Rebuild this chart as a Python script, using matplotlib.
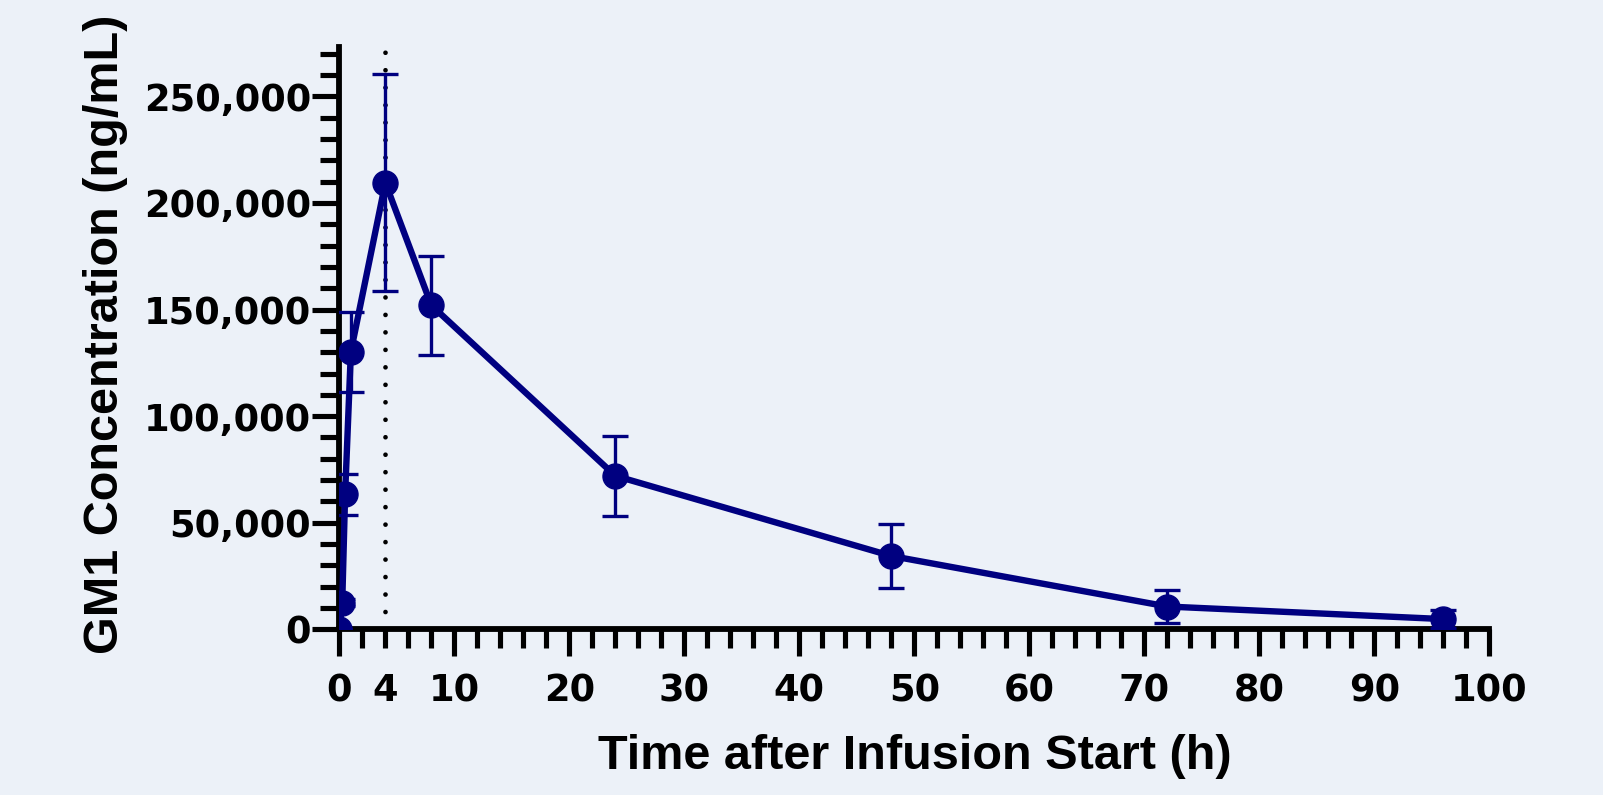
import matplotlib
matplotlib.use("Agg")
import matplotlib.pyplot as plt
from matplotlib.ticker import MultipleLocator, FuncFormatter

# Data
time_h = [0, 0.25, 0.5, 1, 4, 8, 24, 48, 72, 96]
conc_mean = [0, 12500, 63300, 130200, 209500, 152000, 72000, 34400, 10700, 4800]
conc_sd = [0, 1500, 9600, 18800, 51000, 23300, 18700, 14800, 7800, 4200]
xtick_vals = [0, 4, 10, 20, 30, 40, 50, 60, 70, 80, 90, 100]
ytick_vals = [0, 50000, 100000, 150000, 200000, 250000]
infusion_end = 4

BG = "#ECF1F8"
NAVY = "#000080"

fig = plt.figure(figsize=(16.03, 7.95), dpi=100, facecolor=BG)
ax = fig.add_axes([0.2117, 0.2084, 0.7174, 0.732])
ax.set_facecolor(BG)

ax.axvline(infusion_end, color="black", lw=3.4, linestyle=(0, (0.001, 3.7)),
           dash_capstyle="round", zorder=1)

ax.errorbar(time_h, conc_mean, yerr=conc_sd, color=NAVY, lw=4.6,
            marker="o", markersize=18, elinewidth=2.4, capsize=9.5, capthick=2.4,
            zorder=3)

ax.set_xlim(0, 100)
ax.set_ylim(0, 273000)

for s in ["top", "right"]:
    ax.spines[s].set_visible(False)
for s in ["left", "bottom"]:
    ax.spines[s].set_linewidth(4.2)
    ax.spines[s].set_capstyle("projecting")

ax.set_xticks(xtick_vals)
ax.set_xticklabels([str(v) for v in xtick_vals])
ax.xaxis.set_minor_locator(MultipleLocator(2))
ax.set_yticks(ytick_vals)
ax.yaxis.set_major_formatter(FuncFormatter(lambda v, p: f"{int(v):,}"))
ax.yaxis.set_minor_locator(MultipleLocator(10000))

ax.tick_params(which="major", length=19.5, width=3.7, direction="out", color="black")
ax.tick_params(which="minor", length=13.5, width=3.7, direction="out", color="black")
ax.tick_params(axis="x", which="major", pad=11.5)
ax.tick_params(axis="y", which="major", pad=1)

# the "4" tick uses minor length
ax.xaxis.get_major_ticks()[1].tick1line.set_markersize(13.5)

for lbl in ax.get_xticklabels() + ax.get_yticklabels():
    lbl.set_fontfamily("DejaVu Sans")
    lbl.set_fontweight("bold")
    lbl.set_fontsize(26.5)

ax.set_xlabel("Time after Infusion Start (h)", fontsize=35, fontweight="bold",
              family="Liberation Sans", va="center")
ax.xaxis.set_label_coords(0.5, -0.219)
ax.set_ylabel("GM1 Concentration (ng/mL)", fontsize=35, fontweight="bold",
              family="Liberation Sans", va="center")
ax.yaxis.set_label_coords(-0.2037, 0.507)

fig.savefig("out.png", dpi=100, facecolor=BG)
